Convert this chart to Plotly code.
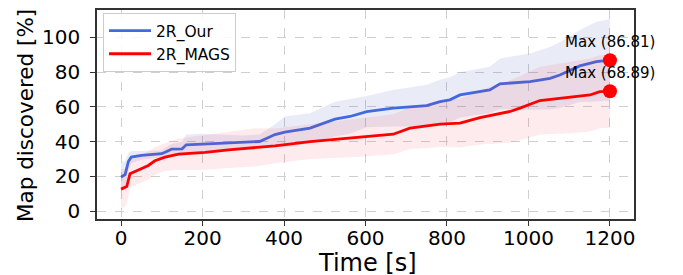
import plotly.graph_objects as go

# ---- data ----
t_our = [0, 10, 18, 25, 50, 100, 112, 124, 150, 160, 200, 260, 300, 340, 362, 378, 402,
         464, 525, 562, 603, 668, 750, 783, 807, 832, 905, 930, 1004, 1053, 1077, 1126,
         1167, 1192, 1200]
mean_our = [19.5, 21, 28.5, 31, 32, 33, 34.3, 35.6, 35.8, 38.1, 38.5, 39.1, 39.5, 40, 42.3,
            44, 45.4, 47.7, 52.9, 54.4, 57.2, 59.2, 60.7, 63, 64, 66.8, 69.7, 73.2, 74.5,
            76.4, 78.3, 83.5, 86, 86.8, 86.81]
std_our = [8, 8, 5, 3.5, 2.5, 2, 2.5, 3, 4, 6, 6, 5, 4, 4, 5, 6, 9, 8.6, 10, 10, 9, 10.5,
           12, 12.5, 13, 13, 13.3, 14.6, 16.2, 18, 19, 20.7, 23, 23.3, 23.5]

t_mags = [0, 14, 22, 42, 67, 83, 108, 141, 206, 263, 329, 378, 464, 587, 668, 709, 758,
          783, 832, 881, 955, 979, 1028, 1102, 1151, 1175, 1200]
mean_mags = [12.6, 14.1, 21.4, 23.7, 26.2, 28.9, 31, 32.8, 33.7, 35.2, 36.6, 37.5, 40, 42.3,
             44.2, 47.7, 49, 50, 50.6, 53.8, 57.3, 59.2, 63.6, 65.3, 66.8, 68.7, 68.89]
std_mags = [11.7, 10, 8, 8, 8, 8, 8, 9, 10, 10.5, 11, 10, 10, 11, 11.5, 12, 12.8, 13, 14,
            15.5, 18, 18.5, 19.5, 20.5, 21, 21, 21]

series = [
    ("2R_Our", t_our, mean_our, std_our, "#4169E1", "rgba(70,100,190,0.12)"),
    ("2R_MAGS", t_mags, mean_mags, std_mags, "#FF0000", "rgba(240,30,50,0.09)"),
]

max_labels = ["Max (86.81)", "Max (68.89)"]
x_ticks = [0, 200, 400, 600, 800, 1000, 1200]
y_ticks = [0, 20, 40, 60, 80, 100]
x_title = "Time [s]"
y_title = "Map discovered [%]"

FONT = "DejaVu Sans"
W, H = 683, 275
ML, MR, MT, MB = 97, 49, 10, 56
PW, PH = W - ML - MR, H - MT - MB

fig = go.Figure()
for name, t, m, s, col, fcol in series:
    upper = [a + b for a, b in zip(m, s)]
    lower = [a - b for a, b in zip(m, s)]
    fig.add_trace(go.Scatter(x=t + t[::-1], y=upper + lower[::-1], fill="toself",
                             fillcolor=fcol, line=dict(width=0), mode="lines",
                             showlegend=False, hoverinfo="skip"))
    fig.add_trace(go.Scatter(x=t, y=m, mode="lines", name=name,
                             line=dict(color=col, width=2.8)))

for (name, t, m, s, col, fcol), lab in zip(series, max_labels):
    fig.add_trace(go.Scatter(x=[t[-1]], y=[m[-1]], mode="markers", showlegend=False,
                             marker=dict(color="red", size=14), cliponaxis=False))
    fig.add_annotation(x=t[-1], y=m[-1], text=lab, showarrow=False, yshift=18,
                       font=dict(family=FONT, size=15, color="black"))

axis_common = dict(showgrid=True, gridcolor="#cfcfcf", griddash="dash", gridwidth=1,
                   zeroline=False, showline=True, linecolor="#333", linewidth=1.6,
                   mirror=True, ticks="outside", ticklen=5, tickwidth=1.2,
                   tickcolor="#333", tickfont=dict(family=FONT, size=20, color="black"),
                   automargin=False)

fig.update_xaxes(range=[-59, 1259], tickvals=x_ticks, ticklabelstandoff=-5, **axis_common)
fig.update_yaxes(range=[-4.6, 115.7], tickvals=y_ticks, ticklabelstandoff=6, **axis_common)

# axis titles placed as paper annotations
fig.add_annotation(xref="paper", yref="paper", x=0.5 + (367 - (ML + PW / 2)) / PW,
                   y=-(262.5 - (MT + PH)) / PH, text=x_title, showarrow=False,
                   xanchor="center", yanchor="middle",
                   font=dict(family=FONT, size=24, color="black"))
fig.add_annotation(xref="paper", yref="paper", x=-(ML - 25) / PW,
                   y=1 - (116 - MT) / PH, text=y_title, showarrow=False, textangle=-90,
                   xanchor="center", yanchor="middle",
                   font=dict(family=FONT, size=21.5, color="black"))

fig.update_layout(
    width=W, height=H,
    margin=dict(l=ML, r=MR, t=MT, b=MB, autoexpand=False),
    plot_bgcolor="white", paper_bgcolor="white",
    legend=dict(x=(103 - ML) / PW, y=1 - (13 - MT) / PH, xanchor="left", yanchor="top",
                bgcolor="rgba(255,255,255,0.85)", bordercolor="#cccccc", borderwidth=1,
                font=dict(family=FONT, size=15.5, color="black"), tracegroupgap=0,
                itemwidth=42),
    font=dict(family=FONT),
)

fig.write_html("out.html", config={"displayModeBar": False},
               post_script="document.body.style.margin='0';document.body.style.overflow='hidden';")
